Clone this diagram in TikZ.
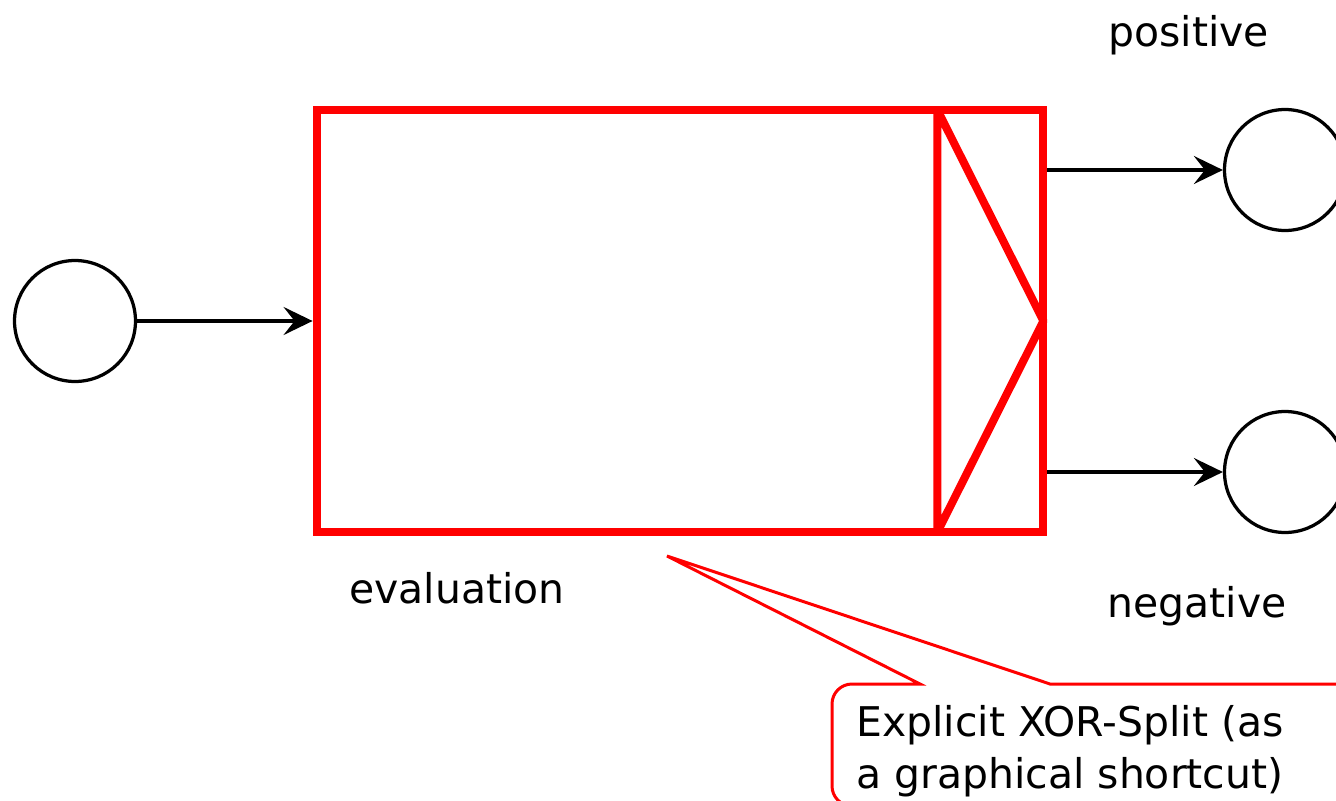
\documentclass[tikz,border=0pt]{standalone}
\usepackage{fontspec}
\setmainfont{DejaVu Sans}
\usetikzlibrary{arrows.meta,calc}
\begin{document}
\begin{tikzpicture}[x=0.02cm,y=-0.02cm,
    place/.style={draw=black,line width=0.065cm,circle,minimum size=2.42cm,inner sep=0},
    task/.style={draw=red,line width=0.16cm,rectangle,outer sep=0,minimum width=14.54cm,minimum height=8.44cm},
    flow/.style={draw=black,line width=0.065cm,-{Stealth[length=0.58cm,width=0.56cm,inset=0.22cm]}},
    lbl/.style={inner sep=0,font=\fontsize{23.3pt}{29.6pt}\selectfont},
    note/.style={draw=red,line width=0.06cm}]
            \useasboundingbox (0,0) rectangle (1336,801);
            \clip (0,0) rectangle (1336,801);
            % input place
            \node[place] (start) at (75,321) {};
            % evaluation task
            \node[task] (eval) at (680,321) {};
            \node[lbl,anchor=base west] (evallbl) at (349,603) {evaluation};
            % xor split
            \scope[draw=red,line width=0.16cm,line join=round]
            \draw ($(eval.north east)+(-106,0)$) -- ($(eval.south east)+(-106,0)$) -- (eval.east) -- cycle;
            \endscope
            % output places
            \node[place] (pos) at (1285,170) {};
            \node[place] (neg) at (1285,472) {};
            \node[lbl,anchor=base west] (poslbl) at (1108,47) {positive};
            \node[lbl,anchor=base west] (neglbl) at (1107,617) {negative};
            % arcs
            \draw[flow,shorten >=0.08cm] (start) -- (eval.west);
            \draw[flow,shorten <=0.08cm] (eval.east |- pos) -- (pos);
            \draw[flow,shorten <=0.08cm] (eval.east |- neg) -- (neg);
            % callout
            \coordinate (tip) at (667,556);
            \node[lbl,anchor=base west,align=left] (xornote) at (856,788) {Explicit XOR-Split (as\\a graphical shortcut)};
            \draw[note] (920,684) [rounded corners=0.4cm] -- (832,684) -- (832,806) -- (1400,806)
            [sharp corners] -- (1400,684) -- (1050,684) -- (tip) -- cycle;
        \end{tikzpicture}
\end{document}
